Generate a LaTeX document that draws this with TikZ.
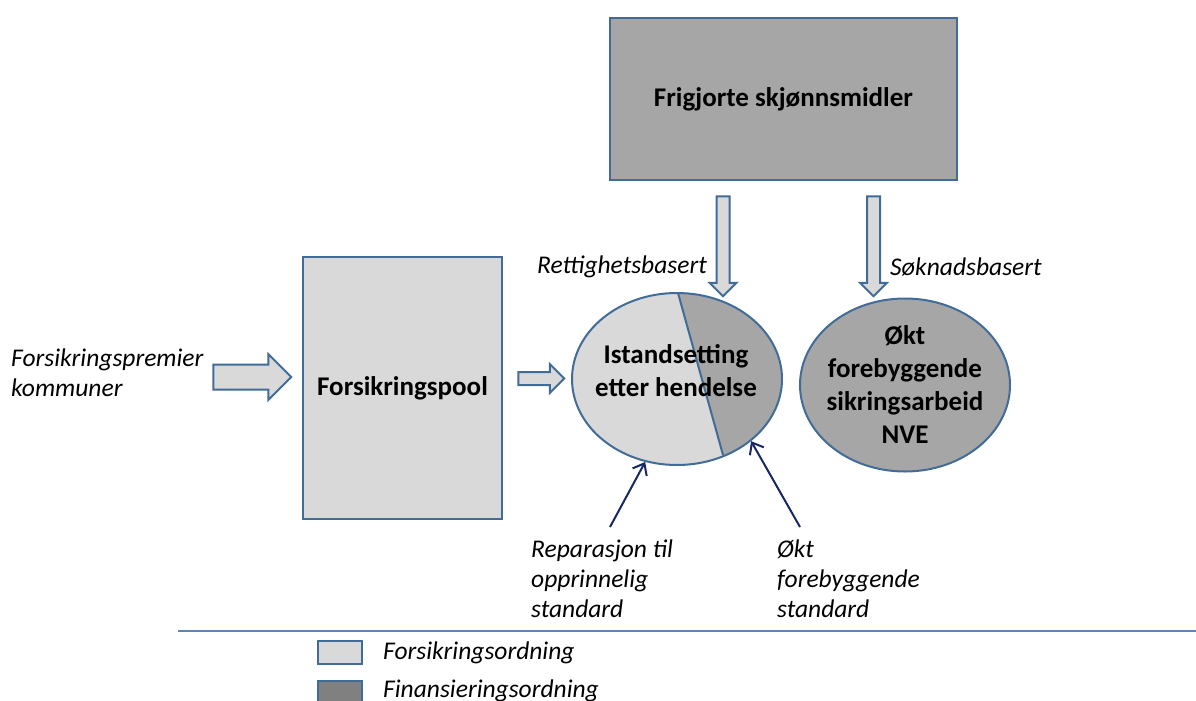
\documentclass[tikz,border=0pt]{standalone}
\usepackage{fontspec}
\setmainfont{Carlito}
\usetikzlibrary{shapes.geometric,shapes.arrows,arrows.meta}
\definecolor{edge}{RGB}{65,108,152}
\definecolor{lightgr}{RGB}{217,217,217}
\definecolor{midgr}{RGB}{166,166,166}
\definecolor{darkgr}{RGB}{128,128,128}
\definecolor{navy}{RGB}{22,40,100}
\definecolor{rulecol}{RGB}{90,135,185}
\begin{document}
\begin{tikzpicture}[x=1pt,y=-1pt,
  box/.style={draw=edge,line width=2pt,inner sep=0pt},
  bold/.style={font=\fontsize{27}{33}\selectfont\bfseries,align=center},
  note/.style={font=\fontsize{25.5}{30}\selectfont\itshape,align=left,inner sep=0pt},
  blockarrow/.style={single arrow,draw=edge,fill=lightgr,line width=2pt,
    inner xsep=0pt,inner ysep=#1,single arrow head extend=7pt},
  pointer/.style={draw=navy,line width=2pt,-{Straight Barb[length=10pt,width=16pt]}}]
  \useasboundingbox (0,0) rectangle (1196,701);
  \clip (0,0) rectangle (1196,701);

  % boxes
  \node[box,fill=midgr,minimum width=347,minimum height=162,bold] (funds) at (783.5,99) {Frigjorte skjønnsmidler};
  \node[box,fill=lightgr,minimum width=199,minimum height=262,bold] (pool) at (402.5,388) {Forsikringspool};

  % split ellipse
  \fill[lightgr] (677,379) ellipse [x radius=105, y radius=86];
  \begin{scope}
    \clip (677,379) ellipse [x radius=105, y radius=86];
    \fill[midgr] (674.4,280)--(727.2,470)--(800,470)--(800,280)--cycle;
  \end{scope}
  \draw[edge,line width=2pt] (678,293)--(723,455);
  \node[ellipse,box,minimum width=210,minimum height=172] (repair) at (677,379) {};
  \node[bold] (repairtxt) at (676,371) {Istandsetting\\etter hendelse};

  \node[ellipse,box,fill=midgr,minimum width=210,minimum height=173] (prevent) at (905,385) {};
  \node[bold] (preventtxt) at (905,385) {Økt\\forebyggende\\sikringsarbeid\\NVE};

  % block arrows
  \node[blockarrow=11.5pt,single arrow head extend=10.5pt,minimum height=78,minimum width=44] (inarrow) at (246,377) {};
  \node[blockarrow=5.5pt,single arrow head extend=8pt,minimum height=46,minimum width=27] (poolarrow) at (538,378.5) {};
  \node[blockarrow=5.5pt,minimum height=100,minimum width=25,rotate=-90] (rightsarrow) at (723,243) {};
  \node[blockarrow=5.5pt,minimum height=100,minimum width=25,rotate=-90] (applyarrow) at (873.5,243) {};

  % labels
  \node[note,anchor=west] (premier) at (11,373) {Forsikringspremier\\kommuner};
  \node[note,anchor=east] (rights) at (707,267) {Rettighetsbasert};
  \node[note,anchor=west] (apply) at (890,267) {Søknadsbasert};
  \node[note,anchor=west] (repnote) at (531,579) {Reparasjon til\\opprinnelig\\standard};
  \node[note,anchor=west] (prevnote) at (777,579) {Økt\\forebyggende\\standard};

  \coordinate (repfoot) at (610,527);
  \coordinate (prevfoot) at (800,527);
  \draw[pointer] (repfoot) -- (repair.249);
  \draw[pointer] (prevfoot) -- (repair.320);

  % legend
  \draw[rulecol,line width=1.5pt] (178,631) -- (1196,631);
  \node[box,fill=lightgr,minimum width=44,minimum height=23] (keyins) at (340,652.5) {};
  \node[box,fill=darkgr,minimum width=44,minimum height=23] (keyfin) at (340,692.5) {};
  \node[note,anchor=west] (insnote) at (383,653) {Forsikringsordning};
  \node[note,anchor=west] (finnote) at (383,691) {Finansieringsordning};
\end{tikzpicture}
\end{document}
